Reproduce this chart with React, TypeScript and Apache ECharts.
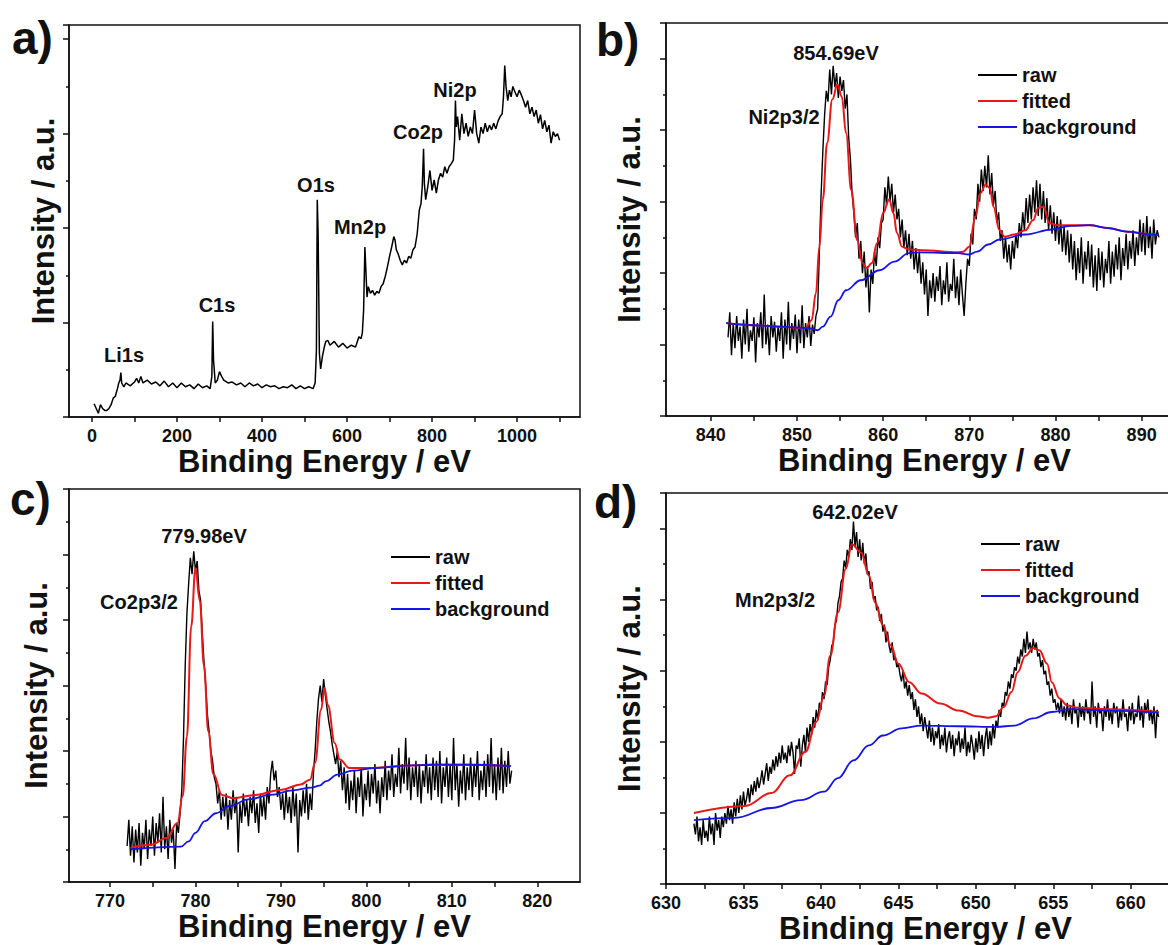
import React, { useEffect, useRef } from "react";
import * as echarts from "echarts";

// ---------- Panel a: survey spectrum ----------
const A_X = [5, 10, 15, 20, 25, 30, 35, 40, 45, 50, 55, 60, 63, 66, 68, 70, 75, 80, 90, 100, 105, 110, 115, 120, 130, 140, 150, 160, 170, 180, 190, 200, 210, 220, 230, 240, 250, 260, 270, 278, 282, 284, 286, 290, 295, 300, 305, 310, 320, 330, 340, 350, 360, 370, 380, 390, 400, 410, 420, 430, 440, 450, 460, 470, 480, 490, 500, 510, 520, 525, 528, 530, 532, 535, 538, 542, 546, 550, 555, 560, 570, 580, 590, 600, 610, 620, 628, 633, 636, 639, 642, 644, 647, 650, 655, 660, 665, 670, 675, 680, 685, 690, 695, 700, 705, 710, 713, 716, 720, 725, 730, 735, 740, 745, 750, 755, 760, 765, 770, 774, 777, 780, 782, 785, 790, 795, 800, 805, 810, 815, 820, 825, 830, 835, 840, 845, 850, 853, 855, 857, 860, 865, 870, 875, 880, 885, 890, 895, 900, 905, 910, 915, 920, 925, 930, 935, 940, 945, 950, 955, 960, 965, 968, 971, 974, 978, 982, 986, 990, 995, 1000, 1005, 1010, 1015, 1020, 1025, 1030, 1035, 1040, 1045, 1050, 1055, 1060, 1065, 1070, 1075, 1080, 1085, 1090, 1095, 1100];
const A_Y = [0.14, 0.09, 0.04, 0.13, 0.09, 0.07, 0.07, 0.09, 0.13, 0.20, 0.22, 0.30, 0.36, 0.39, 0.47, 0.36, 0.32, 0.36, 0.33, 0.37, 0.41, 0.36, 0.43, 0.36, 0.39, 0.35, 0.37, 0.33, 0.38, 0.32, 0.36, 0.31, 0.36, 0.32, 0.34, 0.30, 0.35, 0.31, 0.33, 0.30, 0.43, 1.01, 0.60, 0.36, 0.39, 0.48, 0.43, 0.39, 0.36, 0.37, 0.34, 0.36, 0.32, 0.36, 0.33, 0.35, 0.31, 0.34, 0.32, 0.33, 0.30, 0.32, 0.31, 0.34, 0.30, 0.33, 0.30, 0.32, 0.30, 0.36, 0.71, 2.30, 1.94, 0.67, 0.51, 0.64, 0.73, 0.80, 0.81, 0.76, 0.80, 0.74, 0.78, 0.73, 0.76, 0.74, 0.85, 0.83, 0.89, 1.13, 1.80, 1.59, 1.27, 1.38, 1.31, 1.34, 1.29, 1.33, 1.31, 1.38, 1.41, 1.49, 1.59, 1.70, 1.80, 1.91, 1.87, 1.77, 1.73, 1.66, 1.61, 1.66, 1.63, 1.70, 1.68, 1.77, 1.80, 1.94, 2.19, 2.26, 2.44, 2.84, 2.47, 2.30, 2.44, 2.61, 2.40, 2.51, 2.37, 2.51, 2.58, 2.54, 2.65, 2.58, 2.65, 2.68, 2.72, 2.93, 3.35, 3.07, 3.18, 2.93, 3.21, 3.00, 3.11, 2.97, 3.07, 3.00, 3.25, 3.00, 2.90, 3.07, 3.00, 3.11, 3.02, 3.09, 3.04, 3.11, 3.05, 3.13, 3.18, 3.21, 3.39, 3.72, 3.50, 3.35, 3.46, 3.39, 3.50, 3.44, 3.39, 3.46, 3.41, 3.35, 3.28, 3.35, 3.21, 3.28, 3.18, 3.25, 3.11, 3.20, 3.05, 3.14, 3.02, 3.09, 2.90, 3.02, 2.97, 3.00, 2.93];
const A_PEAKS = ["Li1s", "C1s", "O1s", "Mn2p", "Co2p", "Ni2p"];
const A_TICKS = [0, 100, 200, 300, 400, 500, 600, 700, 800, 900, 1000, 1100];
const A_LABELS = [0, 200, 400, 600, 800, 1000];

// ---------- Panel b: Ni2p ----------
const B_RAW_START = 842;
const B_RAW_STEP = 0.2;
const B_RAW = [
  1.10, 1.45, 0.85, 1.30, 0.95, 1.40, 1.05, 1.25, 0.80, 1.35,
  1.00, 1.50, 0.90, 1.20, 1.05, 1.38, 0.75, 1.30, 1.10, 1.45,
  0.95, 1.70, 1.00, 1.28, 0.85, 1.40, 1.10, 1.32, 0.90, 1.25,
  1.05, 1.45, 0.80, 1.35, 1.00, 1.60, 0.92, 1.30, 1.08, 1.42,
  0.88, 1.35, 1.02, 1.55, 0.95, 1.30, 1.10, 1.40, 0.98, 1.28,
  1.15, 1.40, 1.50, 2.30, 3.10, 3.70, 4.20, 4.55, 4.40, 4.85,
  4.50, 4.90, 4.60, 4.80, 4.45, 4.75, 4.55, 4.70, 4.30, 4.50,
  3.90, 3.60, 3.10, 2.85, 2.50, 2.70, 2.20, 2.45, 2.00, 2.30,
  1.80, 2.10, 1.45, 2.05, 1.85, 2.30, 2.10, 2.50, 2.35, 2.70,
  2.75, 3.20, 2.95, 3.35, 3.00, 3.25, 2.85, 3.10, 2.75, 2.90,
  2.50, 2.75, 2.35, 2.60, 2.25, 2.55, 2.20, 2.45, 2.05, 2.35,
  2.00, 2.30, 1.85, 2.15, 1.70, 2.05, 1.40, 1.90, 1.65, 2.00,
  1.60, 1.95, 1.75, 2.10, 1.55, 1.90, 1.70, 2.15, 1.60, 1.85,
  1.75, 2.20, 1.65, 1.95, 1.55, 2.05, 1.70, 1.40, 1.85, 2.20,
  2.10, 2.55, 2.40, 2.90, 2.75, 3.25, 3.00, 3.45, 3.15, 3.50,
  3.20, 3.65, 3.10, 3.40, 2.95, 3.15, 2.70, 2.85, 2.45, 2.60,
  2.20, 2.50, 2.15, 2.40, 2.05, 2.45, 2.20, 2.55, 2.35, 2.70,
  2.50, 2.85, 2.60, 3.05, 2.70, 3.10, 2.75, 3.20, 2.85, 3.30,
  2.80, 3.25, 2.75, 3.15, 2.70, 3.05, 2.60, 2.95, 2.55, 2.85,
  2.45, 2.80, 2.40, 2.75, 2.30, 2.65, 2.25, 2.60, 2.15, 2.55,
  2.05, 2.45, 1.90, 2.35, 2.00, 2.50, 1.85, 2.30, 2.05, 2.45,
  1.95, 2.40, 1.80, 2.25, 1.75, 2.35, 1.90, 2.30, 1.80, 2.20,
  2.00, 2.45, 1.85, 2.30, 1.95, 2.40, 2.05, 2.50, 1.90, 2.35,
  2.10, 2.55, 2.05, 2.45, 2.20, 2.60, 2.10, 2.50, 2.25, 2.75,
  2.30, 2.70, 2.25, 2.80, 2.35, 2.65, 2.20, 2.75, 2.40, 2.60,
  2.50,
];
const B_FIT_X = [841.8, 845, 848, 851, 851.7, 852.2, 852.6, 853, 853.5, 854.1, 854.7, 855.2, 855.7, 856.3, 857, 857.6, 858.1, 858.7, 859.3, 860, 860.7, 861.2, 861.6, 862.2, 863, 864.5, 868.7, 869.3, 870, 870.7, 871.3, 871.9, 872.4, 872.8, 873.5, 874.1, 875.2, 876.5, 877.4, 878, 878.6, 879.3, 880.2, 881.7, 884, 886.1, 888.3, 891.1, 892];
const B_FIT_Y = [1.30, 1.27, 1.25, 1.23, 1.34, 1.72, 2.37, 3.03, 3.82, 4.43, 4.64, 4.47, 3.96, 3.16, 2.46, 2.14, 2.07, 2.14, 2.42, 2.84, 3.03, 2.84, 2.56, 2.37, 2.33, 2.32, 2.29, 2.30, 2.37, 2.79, 3.12, 3.24, 3.19, 2.93, 2.60, 2.51, 2.54, 2.60, 2.74, 2.91, 2.93, 2.70, 2.67, 2.67, 2.67, 2.63, 2.58, 2.54, 2.53];
const B_BG_X = [841.8, 845, 848, 851.3, 852.4, 853, 853.9, 854.8, 855.7, 857.4, 859.6, 861.3, 863, 864.3, 868.7, 870, 870.9, 872.2, 873.5, 876.5, 879.6, 881.7, 883.9, 886.1, 888.3, 891.1, 892];
const B_BG_Y = [1.30, 1.27, 1.25, 1.23, 1.20, 1.25, 1.39, 1.62, 1.76, 1.90, 2.04, 2.16, 2.28, 2.29, 2.28, 2.26, 2.30, 2.40, 2.47, 2.54, 2.61, 2.66, 2.67, 2.63, 2.58, 2.54, 2.53];
const B_TICKS = [840, 845, 850, 855, 860, 865, 870, 875, 880, 885, 890];
const B_LABELS = [840, 850, 860, 870, 880, 890];

// ---------- Panel c: Co2p ----------
const C_RAW_START = 772;
const C_RAW_STEP = 0.2;
const C_RAW = [
  0.55, 0.95, 0.40, 0.85, 0.30, 0.80, 0.45, 0.90, 0.25, 0.75,
  0.50, 0.95, 0.35, 0.80, 0.55, 1.00, 0.40, 0.90, 0.60, 1.05,
  0.45, 1.30, 0.50, 0.85, 0.35, 0.95, 0.60, 0.80, 0.20, 0.90,
  0.75, 1.05, 1.40, 2.20, 3.30, 4.10, 4.55, 4.95, 4.70, 5.05,
  4.75, 4.90, 4.45, 4.30, 3.80, 3.35, 3.00, 2.55, 2.30, 2.00,
  1.85, 1.60, 1.50, 1.20, 1.40, 0.95, 1.30, 1.00, 1.35, 0.80,
  1.25, 0.95, 1.40, 1.05, 1.30, 0.45, 1.20, 0.90, 1.35, 1.00,
  1.25, 0.85, 1.30, 1.05, 1.40, 0.90, 1.20, 0.75, 1.35, 1.00,
  1.30, 0.95, 1.45, 1.20, 1.65, 1.85, 1.55, 1.70, 1.30, 1.45,
  1.10, 1.35, 0.95, 1.40, 1.05, 1.30, 0.90, 1.45, 1.00, 1.35,
  0.45, 1.25, 1.00, 1.40, 1.05, 1.50, 0.95, 1.35, 1.10, 1.65,
  2.00, 2.45, 2.80, 3.00, 2.75, 3.10, 2.85, 2.65, 2.45, 2.30,
  2.10, 1.95, 1.80, 2.00, 1.60, 1.85, 1.40, 1.75, 1.20, 1.65,
  1.10, 1.55, 1.25, 1.70, 1.05, 1.60, 1.30, 1.75, 1.00, 1.50,
  1.25, 1.70, 1.15, 1.65, 1.35, 1.80, 1.20, 1.55, 1.05, 1.60,
  1.30, 1.85, 1.25, 1.70, 1.40, 1.95, 1.30, 1.65, 1.45, 2.05,
  1.35, 1.80, 1.50, 2.20, 1.40, 1.90, 1.25, 1.75, 1.45, 1.85,
  1.30, 1.80, 1.20, 1.70, 1.45, 1.95, 1.35, 1.75, 1.25, 1.90,
  1.40, 1.85, 1.30, 2.00, 1.20, 1.75, 1.45, 1.90, 1.30, 1.80,
  1.25, 2.20, 1.40, 1.80, 1.15, 1.70, 1.35, 1.95, 1.25, 1.75,
  1.40, 1.90, 1.30, 1.80, 1.45, 2.00, 1.25, 1.70, 1.40, 1.85,
  1.30, 1.95, 1.45, 2.20, 1.35, 1.80, 1.25, 1.90, 1.40, 2.05,
  1.35, 1.85, 1.45, 2.00, 1.50, 1.70,
];
const C_FIT_X = [772.4, 774.8, 776.6, 777.9, 778.5, 779.0, 779.5, 780.0, 780.5, 781.0, 781.5, 782.1, 783.1, 784.4, 787, 790.1, 792.3, 793.4, 794, 794.7, 795.1, 795.5, 796.3, 796.9, 798, 800.1, 805.4, 807.6, 811.9, 816.9];
const C_FIT_Y = [0.52, 0.57, 0.67, 0.90, 1.31, 2.22, 3.90, 4.79, 4.30, 3.30, 2.30, 1.65, 1.33, 1.28, 1.33, 1.41, 1.49, 1.56, 1.82, 2.63, 2.96, 2.70, 2.12, 1.87, 1.74, 1.74, 1.78, 1.79, 1.79, 1.77];
const C_BG_X = [772.4, 778.3, 779.2, 780, 781.1, 782.4, 784, 786.2, 788.8, 791.4, 793.6, 794.5, 795.3, 796.6, 798.4, 801, 805.4, 807.6, 811.9, 816.9];
const C_BG_Y = [0.50, 0.54, 0.62, 0.75, 0.93, 1.05, 1.16, 1.26, 1.33, 1.40, 1.44, 1.47, 1.54, 1.64, 1.70, 1.74, 1.78, 1.79, 1.79, 1.77];
const C_TICKS = [770, 775, 780, 785, 790, 795, 800, 805, 810, 815, 820];
const C_LABELS = [770, 780, 790, 800, 810, 820];

// ---------- Panel d: Mn2p ----------
const D_RAW_START = 631.8;
const D_RAW_STEP = 0.1;
const D_RAW = [
  0.85, 0.70, 0.95, 0.60, 0.80, 0.55, 0.90, 0.65, 0.75, 0.60,
  0.95, 0.70, 0.85, 0.55, 1.00, 0.75, 0.90, 0.65, 0.95, 0.80,
  1.00, 0.85, 1.10, 0.90, 1.05, 0.85, 1.15, 0.95, 1.20, 1.00,
  1.25, 1.05, 1.30, 1.10, 1.20, 1.35, 1.15, 1.40, 1.25, 1.45,
  1.30, 1.50, 1.35, 1.45, 1.60, 1.40, 1.55, 1.70, 1.45, 1.65,
  1.55, 1.75, 1.60, 1.80, 1.65, 1.85, 1.70, 1.95, 1.75, 1.85,
  1.70, 1.95, 1.80, 2.00, 1.85, 1.55, 1.95, 1.90, 2.05, 1.65,
  1.95, 2.10, 1.85, 2.20, 2.00, 2.25, 2.10, 2.35, 2.20, 2.45,
  2.30, 2.55, 2.45, 2.70, 2.60, 2.85, 2.80, 3.05, 3.15, 3.35,
  3.40, 3.65, 3.70, 3.95, 4.05, 4.25, 4.30, 4.55, 4.45, 4.70,
  4.60, 4.85, 4.70, 5.10, 4.75, 4.95, 4.60, 4.85, 4.55, 4.80,
  4.50, 4.65, 4.35, 4.40, 4.15, 4.25, 4.00, 4.05, 3.85, 3.90,
  3.70, 3.80, 3.55, 3.65, 3.40, 3.55, 3.35, 3.25, 3.40, 3.15,
  3.20, 3.05, 3.10, 2.95, 2.85, 3.00, 2.75, 2.85, 2.65, 2.80,
  2.60, 2.70, 2.45, 2.60, 2.35, 2.50, 2.25, 2.40, 2.15, 2.35,
  2.20, 2.05, 2.30, 2.00, 2.20, 1.95, 2.15, 2.05, 2.25, 1.90,
  2.10, 1.95, 2.20, 1.85, 2.05, 2.15, 1.90, 2.10, 1.80, 2.05,
  1.95, 2.15, 1.85, 2.05, 1.90, 2.20, 1.80, 2.00, 1.85, 2.10,
  1.95, 1.75, 2.05, 1.85, 2.15, 1.90, 2.10, 1.80, 2.05, 2.20,
  1.90, 2.15, 1.95, 2.25, 2.05, 2.30, 2.20, 2.45, 2.35, 2.55,
  2.50, 2.70, 2.65, 2.85, 2.75, 2.95, 2.90, 3.05, 3.00, 3.20,
  3.10, 3.30, 3.20, 3.45, 3.25, 3.55, 3.30, 3.40, 3.25, 3.45,
  3.30, 3.40, 3.20, 3.25, 3.05, 3.15, 2.95, 3.00, 2.80, 2.85,
  2.65, 2.75, 2.55, 2.60, 2.45, 2.55, 2.40, 2.60, 2.35, 2.50,
  2.30, 2.55, 2.35, 2.50, 2.25, 2.60, 2.40, 2.45, 2.20, 2.55,
  2.35, 2.50, 2.30, 2.60, 2.40, 2.45, 2.25, 2.85, 2.35, 2.50,
  2.20, 2.55, 2.40, 2.45, 2.15, 2.50, 2.35, 2.60, 2.30, 2.45,
  2.25, 2.55, 2.40, 2.50, 2.20, 2.45, 2.30, 2.60, 2.35, 2.40,
  2.15, 2.50, 2.30, 2.55, 2.25, 2.40, 2.35, 2.65, 2.30, 2.50,
  2.20, 2.55, 2.40, 2.60, 2.30, 2.45, 2.25, 2.50, 2.05, 2.45,
  2.35,
];
const D_FIT_X = [631.8, 635.1, 636.8, 638.0, 639.0, 639.7, 640.2, 640.6, 641.1, 641.6, 642.0, 642.6, 643.1, 643.5, 644.0, 644.5, 645.0, 645.7, 646.5, 647.7, 648.9, 650.1, 650.8, 651.3, 651.8, 652.3, 652.7, 653.2, 653.7, 654.1, 654.6, 654.9, 655.4, 655.9, 656.6, 658.6, 661.8];
const D_FIT_Y = [1.00, 1.10, 1.28, 1.53, 1.86, 2.28, 2.65, 3.21, 3.82, 4.43, 4.78, 4.66, 4.34, 3.96, 3.64, 3.36, 3.10, 2.84, 2.68, 2.54, 2.44, 2.36, 2.34, 2.36, 2.49, 2.70, 2.98, 3.21, 3.32, 3.29, 3.10, 2.84, 2.61, 2.51, 2.48, 2.46, 2.42];
const D_BG_X = [631.8, 634.4, 636.8, 638.7, 640.2, 641.1, 642.1, 643.1, 644, 645.2, 646.5, 648.9, 651.3, 652.5, 653.7, 654.9, 656.1, 658.6, 661.8];
const D_BG_Y = [0.90, 0.93, 1.07, 1.18, 1.30, 1.49, 1.74, 1.95, 2.09, 2.19, 2.23, 2.22, 2.21, 2.23, 2.33, 2.42, 2.46, 2.44, 2.41];
const D_TICKS = [630, 632.5, 635, 637.5, 640, 642.5, 645, 647.5, 650, 652.5, 655, 657.5, 660, 662.5];
const D_LABELS = [630, 635, 640, 645, 650, 655, 660];

const LEGEND_NAMES = ["raw", "fitted", "background"];
const PANEL_LETTERS = ["a)", "b)", "c)", "d)"];
const PEAK_VALUES = ["854.69eV", "779.98eV", "642.02eV"];
const PEAK_NAMES = ["Ni2p3/2", "Co2p3/2", "Mn2p3/2"];

// ---------- helpers ----------
const pairs = (xs: number[], ys: number[]) => xs.map((x, i) => [x, ys[i]]);
const stepped = (start: number, step: number, ys: number[]) =>
  ys.map((y, i) => [Math.round((start + i * step) * 100) / 100, y]);

const FONT = '"Liberation Sans", Arial, Helvetica, sans-serif';
const INK = "#111111";
const RED = "#e81818";
const BLUE = "#1414e6";

// the chart canvas is wider than the visible page so panels b and d can
// run past the right edge, as in the reference
const CANVAS_W = 1220;
const VIEW_W = 1168;
const VIEW_H = 945;

const GRIDS = [
  { left: 69, top: 25, width: 511, height: 392 },
  { left: 666, top: 23, width: 517, height: 393 },
  { left: 69, top: 489, width: 511, height: 393 },
  { left: 666, top: 493, width: 519, height: 393 },
];
const X_RANGES = [
  [-54, 1148],
  [834.8, 894.8],
  [765.2, 825],
  [630, 663.5],
];
const Y_MAX = [4.15, 5.5, 6.0, 5.5];
const X_NAME_GAP = [22, 23, 22, 22];
const Y_NAME_GAP = [10, 21, 17, 21];
const TICKS = [A_TICKS, B_TICKS, C_TICKS, D_TICKS];
const LABELS = [A_LABELS, B_LABELS, C_LABELS, D_LABELS];

function buildOption(): any {
  const axisLineStyle = { color: INK, width: 1.5 };
  const xAxis = GRIDS.map((_, i) => ({
    type: "value",
    gridIndex: i,
    min: X_RANGES[i][0],
    max: X_RANGES[i][1],
    axisLine: { show: true, onZero: false, lineStyle: axisLineStyle },
    axisTick: { show: true, length: 5, customValues: TICKS[i], lineStyle: axisLineStyle },
    axisLabel: {
      show: true,
      customValues: LABELS[i],
      fontSize: 18,
      fontWeight: "bold",
      fontFamily: FONT,
      color: INK,
      margin: 10,
      formatter: (v: number) => String(v),
    },
    splitLine: { show: false },
    name: "Binding Energy / eV",
    nameLocation: "middle",
    nameGap: X_NAME_GAP[i],
    nameTextStyle: { fontSize: 31, fontWeight: "bold", fontFamily: FONT, color: INK },
  }));
  const yAxis = GRIDS.map((_, i) => ({
    type: "value",
    gridIndex: i,
    min: 0,
    max: Y_MAX[i],
    interval: 1,
    axisLine: { show: true, onZero: false, lineStyle: axisLineStyle },
    axisTick: { show: true, length: 6, lineStyle: axisLineStyle },
    minorTick: { show: true, splitNumber: 2, length: 3, lineStyle: axisLineStyle },
    axisLabel: { show: false },
    splitLine: { show: false },
    minorSplitLine: { show: false },
    name: "Intensity / a.u.",
    nameLocation: "middle",
    nameRotate: 90,
    nameGap: Y_NAME_GAP[i],
    nameTextStyle: { fontSize: 31, fontWeight: "bold", fontFamily: FONT, color: INK },
  }));

  const raw = (name: string, idx: number, data: number[][], width: number) => ({
    type: "line",
    name,
    xAxisIndex: idx,
    yAxisIndex: idx,
    data,
    symbol: "none",
    silent: true,
    lineStyle: { color: "#000000", width },
    itemStyle: { color: "#000000" },
    z: 2,
  });
  const curve = (name: string, idx: number, data: number[][], color: string, width: number, z: number) => ({
    type: "line",
    name,
    xAxisIndex: idx,
    yAxisIndex: idx,
    data,
    symbol: "none",
    silent: true,
    smooth: 0.4,
    smoothMonotone: "x",
    lineStyle: { color, width },
    itemStyle: { color },
    z,
  });

  const series = [
    raw("survey", 0, pairs(A_X, A_Y), 1.5),
    raw("raw", 1, stepped(B_RAW_START, B_RAW_STEP, B_RAW), 1.4),
    curve("fitted", 1, pairs(B_FIT_X, B_FIT_Y), RED, 2, 3),
    curve("background", 1, pairs(B_BG_X, B_BG_Y), BLUE, 1.8, 4),
    raw("raw", 2, stepped(C_RAW_START, C_RAW_STEP, C_RAW), 1.4),
    curve("fitted", 2, pairs(C_FIT_X, C_FIT_Y), RED, 2, 3),
    curve("background", 2, pairs(C_BG_X, C_BG_Y), BLUE, 1.8, 4),
    raw("raw", 3, stepped(D_RAW_START, D_RAW_STEP, D_RAW), 1.4),
    curve("fitted", 3, pairs(D_FIT_X, D_FIT_Y), RED, 2, 3),
    curve("background", 3, pairs(D_BG_X, D_BG_Y), BLUE, 1.8, 4),
  ];

  const legendPos = [
    { left: 978, top: 65 },
    { left: 391, top: 547 },
    { left: 981, top: 534 },
  ];
  const legend = legendPos.map((p) => ({
    data: LEGEND_NAMES,
    orient: "vertical",
    left: p.left,
    top: p.top,
    icon: "rect",
    itemWidth: 39,
    itemHeight: 2,
    itemGap: 6,
    selectedMode: false,
    padding: 0,
    textStyle: { fontSize: 20, fontWeight: "bold", fontFamily: FONT, color: INK, lineHeight: 20 },
  }));

  const txt = (text: string, x: number, y: number, size: number, align = "center") => ({
    type: "text",
    x,
    y,
    silent: true,
    style: {
      text,
      fontSize: size,
      fontWeight: "bold",
      fontFamily: FONT,
      fill: INK,
      align,
      verticalAlign: "middle",
    },
  });

  const letterPos = [
    [12, 38],
    [596, 40],
    [10, 499],
    [594, 502],
  ];
  const aPeakPos = [
    [124, 355],
    [217, 305],
    [316, 185],
    [360, 227],
    [418, 132],
    [455, 90],
  ];
  const valuePos = [
    [836, 53],
    [204, 536],
    [855, 512],
  ];
  const namePos = [
    [784, 117],
    [139, 602],
    [775, 600],
  ];
  const graphic = [
    ...PANEL_LETTERS.map((t, i) => txt(t, letterPos[i][0], letterPos[i][1], 46, "left")),
    ...A_PEAKS.map((t, i) => txt(t, aPeakPos[i][0], aPeakPos[i][1], 20)),
    ...PEAK_VALUES.map((t, i) => txt(t, valuePos[i][0], valuePos[i][1], 20)),
    ...PEAK_NAMES.map((t, i) => txt(t, namePos[i][0], namePos[i][1], 20)),
  ];

  return {
    animation: false,
    backgroundColor: "#ffffff",
    grid: GRIDS.map((g) => ({
      ...g,
      show: true,
      borderColor: INK,
      borderWidth: 1.5,
      backgroundColor: "transparent",
      containLabel: false,
    })),
    xAxis,
    yAxis,
    legend,
    series,
    graphic,
  };
}

export default function App() {
  const ref = useRef<HTMLDivElement>(null);
  useEffect(() => {
    if (!ref.current) return;
    const chart = echarts.init(ref.current, undefined, { renderer: "svg" });
    chart.setOption(buildOption());
    return () => chart.dispose();
  }, []);
  return (
    <div
      style={{
        position: "absolute",
        left: 0,
        top: 0,
        width: VIEW_W,
        height: VIEW_H,
        overflow: "hidden",
        background: "#fff",
      }}
    >
      <div ref={ref} style={{ width: CANVAS_W, height: VIEW_H }} />
    </div>
  );
}
